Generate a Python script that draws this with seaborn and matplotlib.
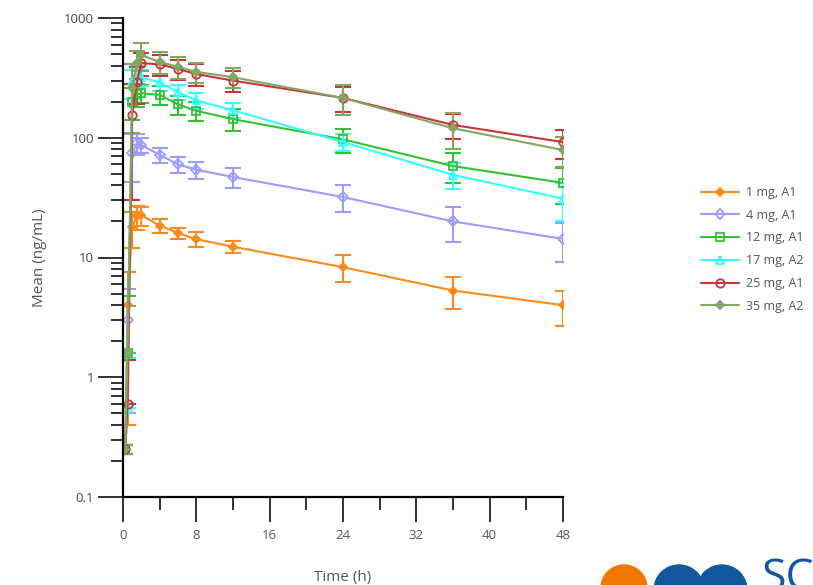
import numpy as np
import matplotlib
matplotlib.use("Agg")
import matplotlib.pyplot as plt
import seaborn as sns
from matplotlib.ticker import FixedLocator, NullFormatter, FixedFormatter
from matplotlib.patches import Ellipse

# ---- data ----
time_h = [0.25, 0.5, 1, 1.5, 2, 4, 6, 8, 12, 24, 36, 48]

labels = ["1 mg, A1", "4 mg, A1", "12 mg, A1", "17 mg, A2", "25 mg, A1", "35 mg, A2"]

mean_1mg  = [0.25, 4.0, 18, 22, 22.5, 18.5, 16, 14.2, 12.3, 8.3, 5.3, 4.0]
sd_1mg    = [0.02, 3.6, 6, 5, 4, 2.5, 1.8, 2.0, 1.5, 2.1, 1.6, 1.3]
mean_4mg  = [0.25, 3.0, 75, 90, 87, 72, 60, 54, 47, 32, 20, 14.3]
sd_4mg    = [0.02, 2.5, 32, 18, 12, 10, 9, 9, 9, 8, 6.5, 5.2]
mean_12mg = [0.25, 1.6, 200, 230, 235, 228, 190, 168, 143, 97, 58, 42]
sd_12mg   = [0.02, 3.2, 60, 50, 40, 40, 35, 30, 30, 22, 16, 14]
mean_17mg = [0.25, 0.55, 290, 330, 320, 290, 240, 205, 170, 92, 49, 31]
sd_17mg   = [0.02, 0.9, 80, 70, 50, 45, 35, 30, 25, 15, 12, 11]
mean_25mg = [0.25, 0.6, 155, 290, 420, 410, 375, 340, 300, 215, 128, 92]
sd_25mg   = [0.02, 0.8, 125, 100, 90, 80, 70, 70, 60, 50, 30, 25]
mean_35mg = [0.25, 1.6, 260, 420, 490, 430, 390, 355, 320, 215, 120, 79]
sd_35mg   = [0.02, 2.3, 150, 110, 130, 90, 80, 70, 60, 60, 40, 22]

x_ticks = [0, 8, 16, 24, 32, 40, 48]
y_ticks = [0.1, 1, 10, 100, 1000]
y_tick_labels = ["0.1", "1", "10", "100", "1000"]

means = [mean_1mg, mean_4mg, mean_12mg, mean_17mg, mean_25mg, mean_35mg]
sds = [sd_1mg, sd_4mg, sd_12mg, sd_17mg, sd_25mg, sd_35mg]

# ---- styles ----
colors = ["#FF8A1C", "#9C9CFF", "#34C234", "#33FFFF", "#C8343A", "#82A860"]
markers = ["D", "D", "s", "^", "o", "D"]
filled = [True, False, False, False, False, True]
msizes = [4, 5, 6, 5.5, 6, 4]

sns.set_theme(style="white")
plt.rcParams["font.family"] = ["Open Sans", "DejaVu Sans"]

fig = plt.figure(figsize=(8.13, 5.85), dpi=100)
ax = fig.add_axes([123 / 813, 1 - 497 / 585, (563 - 123) / 813, (497 - 18) / 585])
ax.set_yscale("log")

for lab, m, s, c, mk, fl, ms in zip(labels, means, sds, colors, markers, filled, msizes):
    m = np.array(m, float)
    s = np.array(s, float)
    sns.lineplot(x=time_h, y=m, ax=ax, color=c, marker=mk, markersize=ms,
                 markerfacecolor=(c if fl else "none"), markeredgecolor=c,
                 markeredgewidth=1.3, linewidth=1.5, label=lab, estimator=None,
                 errorbar=None)
    lower = np.where(m - s > 0, s, 0.0)
    ax.errorbar(time_h, m, yerr=[lower, s], fmt="none", ecolor=c,
                elinewidth=1.5, capsize=5.5, capthick=1.5, zorder=1.5)

ax.set_xlim(0, 48)
ax.set_ylim(0.1, 1000)
ax.xaxis.set_major_locator(FixedLocator(x_ticks))
ax.xaxis.set_minor_locator(FixedLocator([4, 12, 20, 28, 36, 44]))
ax.set_xticklabels([str(v) for v in x_ticks])
ax.yaxis.set_major_locator(FixedLocator(y_ticks))
ax.yaxis.set_major_formatter(FixedFormatter(y_tick_labels))
minor_y = [k * 10.0 ** e for e in range(-1, 3) for k in range(2, 10)]
ax.yaxis.set_minor_locator(FixedLocator(minor_y))
ax.yaxis.set_minor_formatter(NullFormatter())

for side in ["top", "right"]:
    ax.spines[side].set_visible(False)
for side in ["left", "bottom"]:
    ax.spines[side].set_color("black")
    ax.spines[side].set_linewidth(1.6)

ax.tick_params(axis="x", which="major", direction="out", length=18, width=1.3,
               color="#222222", labelsize=9.5, labelcolor="#4F5A66", pad=5)
ax.tick_params(axis="y", which="major", direction="out", length=18, width=1.3,
               color="#222222", labelsize=9.5, labelcolor="#444444", pad=3)
ax.tick_params(axis="both", which="minor", direction="out", length=9, width=1.3,
               color="#222222")
ax.tick_params(bottom=True, left=True, which="both")

ax.set_xlabel("Time (h)", fontsize=11, color="#555555", labelpad=20)
ax.set_ylabel("Mean (ng/mL)", fontsize=11, color="#555555", labelpad=12)

leg = ax.legend(loc="upper left", bbox_to_anchor=(696 / 813, 1 - 181 / 585),
                bbox_transform=fig.transFigure, frameon=False, fontsize=9,
                handlelength=3.0, labelspacing=0.78, handletextpad=0.6,
                borderaxespad=0)
for t in leg.get_texts():
    t.set_color("#555555")

# partial logo at bottom right
def blob(cx, cy, r, col):
    fig.patches.append(Ellipse((cx / 813, 1 - cy / 585), 2 * r / 813, 2 * r / 585,
                               transform=fig.transFigure, color=col, zorder=0))

blob(624, 588, 23, "#F07800")
blob(679, 590, 25, "#13579E")
blob(722, 590, 25, "#13579E")
fig.text(762 / 813, 1 - 556 / 585, "SC", color="#13579E", fontsize=32,
         ha="left", va="top")

fig.savefig("out.png", dpi=100)
